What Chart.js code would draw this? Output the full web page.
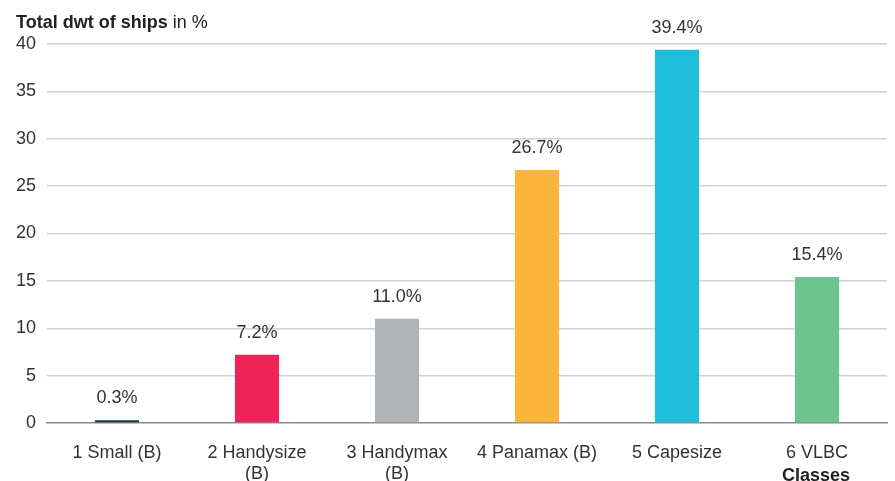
<!DOCTYPE html>
<html>
<head>
<meta charset="utf-8">
<script src="https://cdn.jsdelivr.net/npm/chart.js@4"></script>
<style>
  html, body { margin: 0; padding: 0; background: #fff; }
  #wrap { width: 895px; height: 481px; }
</style>
</head>
<body>
<div id="wrap"><canvas id="dwtChart" width="895" height="481"></canvas></div>
<script>
const categories = [
  ['1 Small (B)'],
  ['2 Handysize', '(B)'],
  ['3 Handymax', '(B)'],
  ['4 Panamax (B)'],
  ['5 Capesize'],
  ['6 VLBC']
];
const shares = [0.3, 7.2, 11.0, 26.7, 39.4, 15.4];
const barColors = ['#17384a', '#ef2357', '#b1b4b6', '#fbb53b', '#1fbfdb', '#6dc48f'];
const yTicks = [0, 5, 10, 15, 20, 25, 30, 35, 40];

const FONT = '"Liberation Sans", Arial, Helvetica, sans-serif';
const TEXT = '#333333';

// value labels above bars, title, and the "Classes" axis title
const extras = {
  id: 'extras',
  afterDatasetsDraw(chart) {
    const ctx = chart.ctx;
    const meta = chart.getDatasetMeta(0);
    ctx.save();
    ctx.fillStyle = TEXT;
    ctx.font = '18px ' + FONT;
    ctx.textAlign = 'center';
    ctx.textBaseline = 'alphabetic';
    meta.data.forEach((bar, i) => {
      ctx.fillText(shares[i].toFixed(1) + '%', bar.x, bar.y - 17);
    });

    ctx.textAlign = 'left';
    ctx.fillStyle = '#222';
    ctx.font = 'bold 18px ' + FONT;
    const bold = 'Total dwt of ships';
    ctx.fillText(bold, 16, 28);
    const w = ctx.measureText(bold).width;
    ctx.font = '18px ' + FONT;
    ctx.fillText(' in %', 16 + w, 28);

    ctx.font = 'bold 18px ' + FONT;
    ctx.textAlign = 'right';
    ctx.fillText('Classes', 850, 481);
    ctx.restore();
  }
};

new Chart(document.getElementById('dwtChart'), {
  type: 'bar',
  data: {
    labels: categories,
    datasets: [{
      data: shares,
      backgroundColor: barColors,
      categoryPercentage: 1,
      barPercentage: 0.315
    }]
  },
  options: {
    responsive: false,
    animation: false,
    layout: { padding: { top: 44, right: 8, left: 0, bottom: 0 } },
    plugins: { legend: { display: false }, tooltip: { enabled: false } },
    scales: {
      x: {
        grid: { display: false, drawTicks: false },
        border: { display: true, color: '#8a8a8a', width: 1.5 },
        ticks: {
          color: TEXT,
          font: { family: FONT, size: 18, lineHeight: 1.2 },
          padding: 19,
          maxRotation: 0,
          autoSkip: false
        },
        afterFit(scale) { scale.height = 58; }
      },
      y: {
        min: 0,
        max: 40,
        afterBuildTicks(scale) { scale.ticks = yTicks.map(v => ({ value: v })); },
        grid: {
          color: ctx => ctx.tick && ctx.tick.value === 0 ? 'rgba(0,0,0,0)' : '#d2d2d2',
          lineWidth: 1.5,
          drawTicks: false
        },
        border: { display: false },
        ticks: {
          color: TEXT,
          font: { family: FONT, size: 18 },
          padding: 11
        },
        afterFit(scale) { scale.width = 47; }
      }
    }
  },
  plugins: [extras]
});
</script>
</body>
</html>
